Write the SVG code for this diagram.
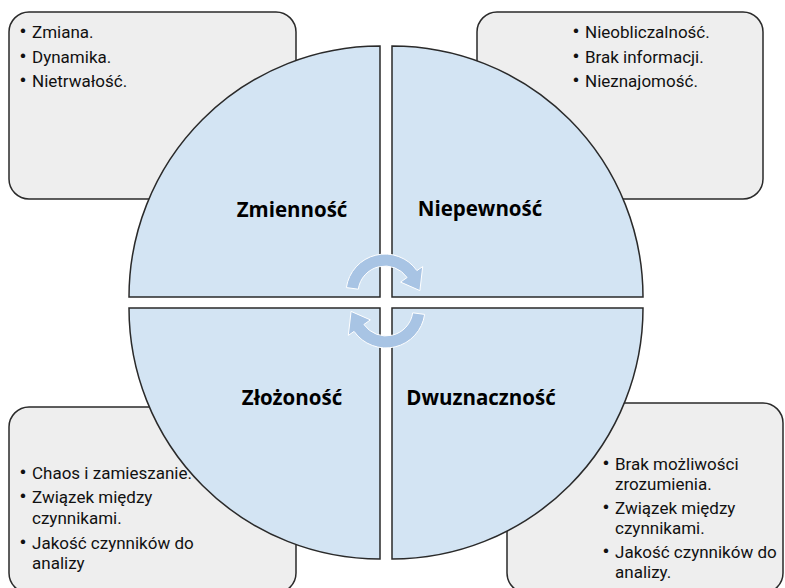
<svg xmlns="http://www.w3.org/2000/svg" width="785" height="588" viewBox="0 0 785 588">
<style>
.box{fill:#eeeeee;stroke:#2a2a2a;stroke-width:1.5}
.quad{fill:#d3e4f3;stroke:#2a2a2a;stroke-width:1.5}
.t{font-family:Roboto,"Liberation Sans",sans-serif;font-size:17px;fill:#111}
.bl{font-size:19px;font-weight:bold}
.title{font-family:"Open Sans","Liberation Sans",sans-serif;font-size:20.5px;font-weight:bold;fill:#000;text-anchor:middle}
.arrow{fill:#a8c4e4;stroke:#ffffff;stroke-width:1}
</style>
<defs>
<path id="cyc" d="M -38.6 -5.4 A 39 39 0 0 1 31.9 -22.4 L 37.7 -26.4 L 34.9 -2.4 L 15.6 -10.9 L 22.1 -15.5 A 27 27 0 0 0 -26.7 -3.8 Z"/>
</defs>
<rect width="785" height="588" fill="#ffffff"/>
<g id="box-zmiennosc">
<rect class="box" x="9" y="12" width="287" height="187" rx="20"/>
<text class="t" x="19.5" y="38"><tspan class="bl">•</tspan><tspan x="32">Zmiana.</tspan></text>
<text class="t" x="19.5" y="63"><tspan class="bl">•</tspan><tspan x="32">Dynamika.</tspan></text>
<text class="t" x="19.5" y="87"><tspan class="bl">•</tspan><tspan x="32">Nietrwałość.</tspan></text>
</g>
<g id="box-niepewnosc">
<rect class="box" x="477" y="12" width="286" height="187" rx="20"/>
<text class="t" x="572.5" y="38"><tspan class="bl">•</tspan><tspan x="585">Nieobliczalność.</tspan></text>
<text class="t" x="572.5" y="63"><tspan class="bl">•</tspan><tspan x="585">Brak informacji.</tspan></text>
<text class="t" x="572.5" y="87"><tspan class="bl">•</tspan><tspan x="585">Nieznajomość.</tspan></text>
</g>
<g id="box-zlozonosc">
<rect class="box" x="9" y="407" width="287" height="186" rx="20"/>
</g>
<g id="box-dwuznacznosc">
<rect class="box" x="507" y="403" width="276" height="190" rx="20"/>
</g>
<g id="q-zmiennosc">
<path class="quad" d="M 380 297 L 129 297 A 251 251 0 0 1 380 46 Z"/>
<text class="title" x="292" y="217">Zmienność</text>
</g>
<g id="q-niepewnosc">
<path class="quad" d="M 392 297 L 392 46 A 251 251 0 0 1 643 297 Z"/>
<text class="title" x="480" y="216">Niepewność</text>
</g>
<g id="q-zlozonosc">
<path class="quad" d="M 380 308 L 380 559 A 251 251 0 0 1 129 308 Z"/>
<text class="title" x="292" y="405">Złożoność</text>
</g>
<g id="q-dwuznacznosc">
<path class="quad" d="M 392 308 L 643 308 A 251 251 0 0 1 392 559 Z"/>
<text class="title" x="481" y="405">Dwuznaczność</text>
</g>
<g id="box-zlozonosc-text">
<text class="t" x="19.5" y="479"><tspan class="bl">•</tspan><tspan x="32">Chaos i zamieszanie.</tspan></text>
<text class="t" x="19.5" y="503"><tspan class="bl">•</tspan><tspan x="32">Związek między</tspan><tspan x="32" y="524">czynnikami.</tspan></text>
<text class="t" x="19.5" y="549"><tspan class="bl">•</tspan><tspan x="32">Jakość czynników do</tspan><tspan x="32" y="569">analizy</tspan></text>
</g>
<g id="box-dwuznacznosc-text">
<text class="t" x="602.5" y="470"><tspan class="bl">•</tspan><tspan x="615">Brak możliwości</tspan><tspan x="615" y="490">zrozumienia.</tspan></text>
<text class="t" x="602.5" y="514"><tspan class="bl">•</tspan><tspan x="615">Związek między</tspan><tspan x="615" y="534">czynnikami.</tspan></text>
<text class="t" x="602.5" y="558"><tspan class="bl">•</tspan><tspan x="615">Jakość czynników do</tspan><tspan x="615" y="578">analizy.</tspan></text>
</g>
<g id="connectors">
<use href="#cyc" class="arrow" transform="translate(385,293)"/>
<use href="#cyc" class="arrow" transform="translate(386,309) rotate(180)"/>
</g>
</svg>
